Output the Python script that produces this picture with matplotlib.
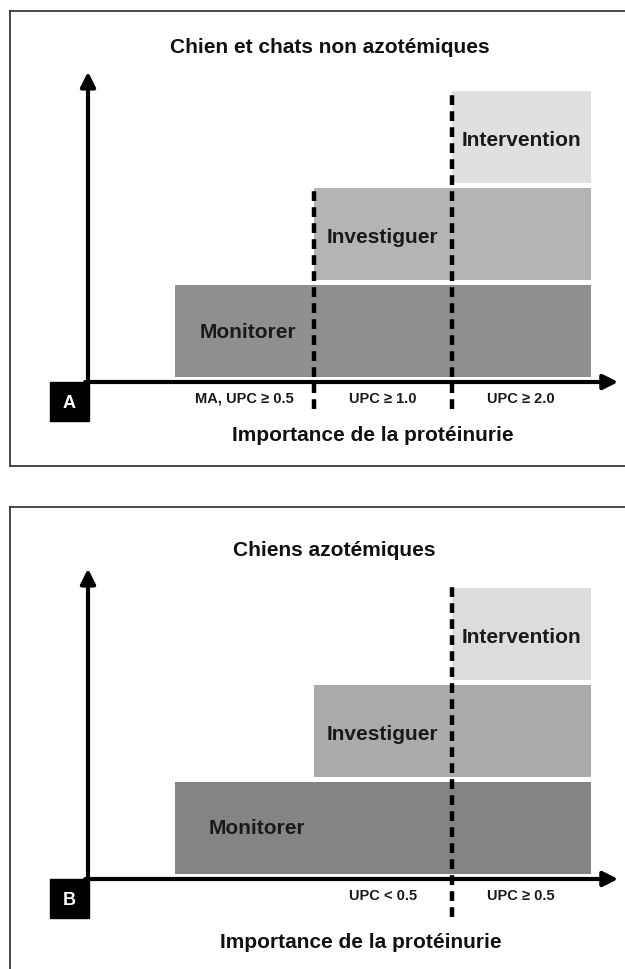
import matplotlib
matplotlib.use("Agg")
import matplotlib.pyplot as plt
from matplotlib.patches import Rectangle

plt.rcParams['font.family'] = ['Liberation Sans', 'DejaVu Sans']

# data
stages = ["Monitorer", "Investiguer", "Intervention"]
stage_start_A = [0, 1, 2]
stage_start_B = [0, 1, 2]
stage_end = 3
thresholds_A = [1, 2]
thresholds_B = [2]
tick_pos_A = [0.5, 1.5, 2.5]
tick_labels_A = ["MA, UPC \u2265 0.5", "UPC \u2265 1.0", "UPC \u2265 2.0"]
tick_pos_B = [1.5, 2.5]
tick_labels_B = ["UPC < 0.5", "UPC \u2265 0.5"]
titles = ["Chien et chats non azotémiques", "Chiens azotémiques"]
xlabel = "Importance de la protéinurie"

colors_A = ["#8f8f8f", "#b4b4b4", "#e0e0e0"]
colors_B = ["#848484", "#ababab", "#dcdcdc"]

W, H = 625, 970
fig = plt.figure(figsize=(W / 100, H / 100), dpi=100)

# pixel mapping: x_px = 175 + 138.5*x ; y_px = axis_px - 97*y
XS, X0 = 138.5, 175
YS = 97


def panel(top_px, bot_px, axis_px, starts, colors, thresholds, tick_pos, tick_labels,
          title, title_xy, letter, text_pos, dash_bottom, bottom_spine=True):
    ax = fig.add_axes([10 / W, 1 - bot_px / H, (W - 10) / W, (bot_px - top_px) / H])
    ax.set_xlim((10 - X0) / XS, (W - X0) / XS)
    ax.set_ylim((axis_px - bot_px) / YS, (axis_px - top_px) / YS)
    ax.set_xticks([])
    ax.set_yticks([])
    for s in ["left", "top", "bottom"]:
        ax.spines[s].set_color("#3a3a3a")
        ax.spines[s].set_linewidth(1.3)
    ax.spines["right"].set_visible(False)
    if not bottom_spine:
        ax.spines["bottom"].set_visible(False)

    # stage bars
    for i, (name, st) in enumerate(zip(stages, starts)):
        ax.bar(st, 0.95, width=stage_end - st, bottom=i + 0.05, align="edge",
               color=colors[i], edgecolor="none", zorder=1)
        tx, ty = text_pos[i]
        ax.text(tx, ty, name, fontsize=15, fontweight="bold", color="#1a1a1a",
                ha="center", va="center", zorder=4)

    # threshold dashed lines
    for t in thresholds:
        lvl = starts.index(t)
        ax.vlines(t, dash_bottom, lvl + 1.0 + 0.01, colors="black", linewidth=3.2,
                  linestyles=(0, (2.2, 1.4)), zorder=3)

    yx = (88 - X0) / XS
    # y axis arrow
    ax.annotate("", xy=(yx, 3.2), xytext=(yx, -0.02),
                arrowprops=dict(arrowstyle="-|>", lw=3, color="black",
                                mutation_scale=22, shrinkA=0, shrinkB=0), zorder=5)
    # x axis arrow
    ax.annotate("", xy=(3.2, 0), xytext=(yx - 0.02, 0),
                arrowprops=dict(arrowstyle="-|>", lw=3, color="black",
                                mutation_scale=22, shrinkA=0, shrinkB=0), zorder=5)

    # letter box
    bx0 = (50 - X0) / XS
    ax.add_patch(Rectangle((bx0, -0.40), yx - bx0 + 0.01, 0.40, color="black", zorder=5))
    ax.text((bx0 + yx) / 2, -0.21, letter, color="white", fontsize=13,
            fontweight="bold", ha="center", va="center", zorder=6)

    for p, lab in zip(tick_pos, tick_labels):
        ax.text(p, -0.16, lab, fontsize=10.5, fontweight="bold", color="#1a1a1a",
                ha="center", va="center")

    ax.text(title_xy[0], title_xy[1], title, fontsize=15, fontweight="bold",
            ha="center", va="center", color="#111111")
    return ax


axA = panel(12, 467, 383, stage_start_A, colors_A, thresholds_A, tick_pos_A, tick_labels_A,
            titles[0], (1.12, (383 - 47) / YS), "A",
            [(0.53, 0.52), (1.5, 1.5), (2.5, 2.5)], -0.28)
axA.text(1.43, -0.54, xlabel, fontsize=15, fontweight="bold", ha="center", va="center",
         color="#111111")

axB = panel(508, 970, 880, stage_start_B, colors_B, thresholds_B, tick_pos_B, tick_labels_B,
            titles[1], (1.15, (880 - 550) / YS), "B",
            [(0.59, 0.53), (1.5, 1.5), (2.5, 2.5)], -0.39,
            bottom_spine=False)
axB.text(1.34, -0.64, xlabel, fontsize=15, fontweight="bold", ha="center", va="center",
         color="#111111")

fig.savefig("out.png", dpi=100)
